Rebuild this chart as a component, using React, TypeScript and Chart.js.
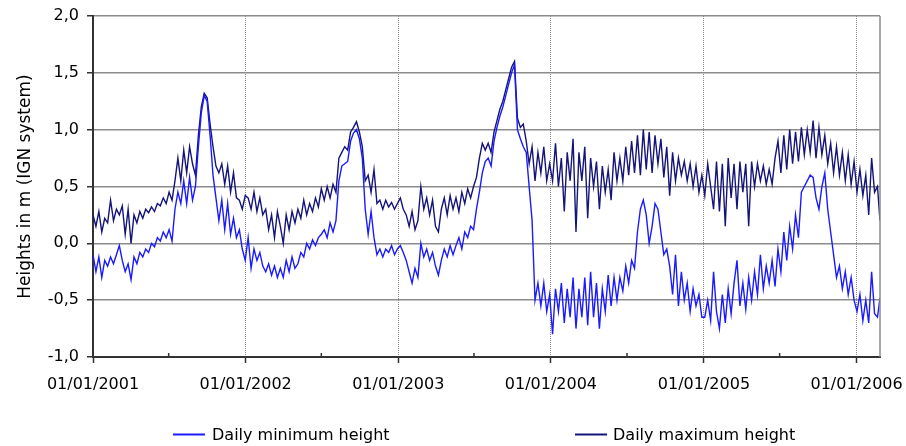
import { useEffect, useRef } from 'react';
import { Chart, registerables } from 'chart.js';

Chart.register(...registerables);

const seriesNames = ['Daily minimum height', 'Daily maximum height'];
const seriesColors = ['#1a1aff', '#14147a'];
const yTitle = 'Heights in m (IGN system)';
const xTickDays = [0, 365, 730, 1095, 1461, 1826];
const xTickLabels = ['01/01/2001', '01/01/2002', '01/01/2003', '01/01/2004', '01/01/2005', '01/01/2006'];
const xMinorTickDays = [181, 546, 911, 1277, 1642];
const yTickValues = [-1, -0.5, 0, 0.5, 1, 1.5, 2];
const sampleStepDays = 7;
const lastSampleDay = 1882;

const minHeights = [
  // 2001
  -0.10, -0.25, -0.12, -0.30, -0.15, -0.20, -0.12, -0.18, -0.10, -0.02,
  -0.15, -0.25, -0.18, -0.32, -0.12, -0.18, -0.08, -0.12, -0.05, -0.08,
  0.00, -0.03, 0.05, 0.02, 0.10, 0.05, 0.12, 0.02, 0.30, 0.45,
  0.35, 0.55, 0.35, 0.58, 0.38, 0.50, 0.85, 1.15, 1.30, 1.25,
  0.95, 0.60, 0.40, 0.20, 0.38, 0.12, 0.35, 0.08, 0.22, 0.05,
  0.12, -0.05, -0.15,
  // 2002
  0.05, -0.22, -0.05, -0.15, -0.08, -0.20, -0.25, -0.18, -0.28, -0.20,
  -0.30, -0.22, -0.30, -0.15, -0.25, -0.12, -0.22, -0.18, -0.08, -0.12,
  0.00, -0.05, 0.03, -0.02, 0.05, 0.08, 0.12, 0.05, 0.18, 0.10,
  0.20, 0.55, 0.68, 0.70, 0.72, 0.90, 0.97, 1.00, 0.92, 0.75,
  0.30, 0.08, 0.28, 0.05, -0.10, -0.05, -0.12, -0.05, -0.08, -0.02, -0.10, -0.05,
  // 2003
  -0.02, -0.08, -0.15, -0.25, -0.35, -0.22, -0.30, 0.00, -0.12, -0.05,
  -0.15, -0.08, -0.20, -0.28, -0.15, -0.05, -0.12, -0.02, -0.10, -0.02,
  0.05, -0.05, 0.10, 0.05, 0.15, 0.12, 0.30, 0.45, 0.62, 0.72,
  0.75, 0.68, 0.90, 1.02, 1.12, 1.20, 1.30, 1.40, 1.50, 1.57,
  1.00, 0.92, 0.85, 0.80, 0.50, 0.20, -0.50, -0.35, -0.55, -0.35, -0.60, -0.45,
  // 2004
  -0.80, -0.40, -0.60, -0.35, -0.70, -0.40, -0.65, -0.30, -0.75, -0.40,
  -0.65, -0.30, -0.72, -0.25, -0.65, -0.35, -0.75, -0.40, -0.60, -0.28,
  -0.55, -0.30, -0.50, -0.30, -0.42, -0.20, -0.35, -0.15, -0.22, 0.10,
  0.30, 0.38, 0.25, 0.00, 0.15, 0.35, 0.30, 0.10, -0.10, -0.05,
  -0.20, -0.45, -0.10, -0.55, -0.25, -0.50, -0.35, -0.60, -0.40, -0.55, -0.45, -0.65,
  // 2005 - 2006
  -0.65, -0.50, -0.68, -0.25, -0.60, -0.75, -0.45, -0.70, -0.40, -0.62,
  -0.35, -0.15, -0.55, -0.35, -0.58, -0.30, -0.50, -0.25, -0.45, -0.10,
  -0.40, -0.20, -0.35, -0.15, -0.38, -0.05, -0.25, 0.10, -0.15, 0.15,
  -0.05, 0.25, 0.05, 0.45, 0.50, 0.55, 0.60, 0.58, 0.40, 0.30,
  0.50, 0.62, 0.30, 0.10, -0.10, -0.30, -0.20, -0.40, -0.25, -0.45,
  -0.30, -0.50, -0.60, -0.45, -0.68, -0.50, -0.70, -0.25, -0.62, -0.65,
  -0.48,
];

const maxHeights = [
  // 2001
  0.25, 0.15, 0.28, 0.10, 0.22, 0.18, 0.38, 0.20, 0.30, 0.25,
  0.33, 0.08, 0.30, 0.00, 0.25, 0.18, 0.28, 0.22, 0.30, 0.27,
  0.32, 0.28, 0.35, 0.33, 0.40, 0.35, 0.45, 0.38, 0.55, 0.75,
  0.55, 0.82, 0.62, 0.85, 0.70, 0.60, 0.95, 1.20, 1.32, 1.28,
  1.05, 0.85, 0.68, 0.62, 0.70, 0.52, 0.68, 0.45, 0.62, 0.40,
  0.38, 0.30, 0.42,
  // 2002
  0.40, 0.30, 0.45, 0.28, 0.40, 0.25, 0.30, 0.12, 0.25, 0.05,
  0.28, 0.15, 0.00, 0.25, 0.12, 0.28, 0.18, 0.30, 0.22, 0.38,
  0.25, 0.35, 0.28, 0.40, 0.32, 0.48, 0.38, 0.50, 0.40, 0.52,
  0.45, 0.75, 0.80, 0.85, 0.82, 0.98, 1.02, 1.07, 0.98, 0.85,
  0.55, 0.60, 0.45, 0.65, 0.35, 0.38, 0.30, 0.38, 0.32, 0.36, 0.30, 0.35,
  // 2003
  0.40, 0.30, 0.25, 0.15, 0.28, 0.12, 0.20, 0.50, 0.30, 0.40,
  0.25, 0.38, 0.15, 0.10, 0.30, 0.40, 0.25, 0.42, 0.30, 0.40,
  0.28, 0.45, 0.35, 0.48, 0.40, 0.50, 0.58, 0.75, 0.88, 0.82,
  0.88, 0.80, 0.98, 1.08, 1.18, 1.25, 1.35, 1.45, 1.55, 1.60,
  1.10, 1.02, 1.05, 0.90, 0.70, 0.85, 0.55, 0.80, 0.62, 0.85, 0.55, 0.70,
  // 2004
  0.55, 0.88, 0.50, 0.75, 0.28, 0.80, 0.55, 0.92, 0.10, 0.80,
  0.55, 0.85, 0.22, 0.75, 0.50, 0.72, 0.30, 0.68, 0.45, 0.65,
  0.38, 0.80, 0.55, 0.75, 0.55, 0.85, 0.60, 0.90, 0.62, 0.95,
  0.60, 1.00, 0.65, 0.98, 0.62, 0.95, 0.70, 0.92, 0.58, 0.85,
  0.42, 0.80, 0.55, 0.75, 0.60, 0.72, 0.55, 0.70, 0.50, 0.68, 0.45, 0.60,
  // 2005 - 2006
  0.42, 0.70, 0.50, 0.30, 0.72, 0.28, 0.70, 0.15, 0.75, 0.40,
  0.70, 0.30, 0.72, 0.45, 0.70, 0.15, 0.72, 0.50, 0.70, 0.55,
  0.68, 0.52, 0.65, 0.52, 0.75, 0.90, 0.62, 0.95, 0.65, 1.00,
  0.70, 0.98, 0.72, 1.02, 0.78, 1.00, 0.80, 1.08, 0.75, 1.02,
  0.78, 0.95, 0.70, 0.88, 0.62, 0.85, 0.60, 0.80, 0.55, 0.78,
  0.52, 0.72, 0.45, 0.65, 0.42, 0.60, 0.25, 0.75, 0.45, 0.50,
  0.20,
];

const FONT = 'DejaVu Sans';

function sampleDay(i: number, n: number) {
  return i === n - 1 ? lastSampleDay : i * sampleStepDays;
}

function toPoints(values: number[]) {
  return values.map((v, i) => ({ x: sampleDay(i, values.length), y: v }));
}

const extrasPlugin = {
  id: 'extras',
  afterDraw(chart: any) {
    const { ctx, chartArea: a, scales } = chart;
    ctx.save();
    // right border of plot area
    ctx.strokeStyle = '#8c8c8c';
    ctx.lineWidth = 1.5;
    ctx.beginPath();
    ctx.moveTo(a.right, a.top);
    ctx.lineTo(a.right, a.bottom);
    ctx.stroke();
    // minor ticks (inside)
    ctx.strokeStyle = '#333';
    ctx.lineWidth = 1.5;
    ctx.beginPath();
    xMinorTickDays.forEach((d) => {
      const x = scales.x.getPixelForValue(d);
      ctx.moveTo(x, a.bottom - 4);
      ctx.lineTo(x, a.bottom);
    });
    ctx.stroke();
    // legend
    const items = [
      { x0: 173, x1: 205, tx: 212 },
      { x0: 575, x1: 607, tx: 613 },
    ];
    ctx.font = `16px "${FONT}"`;
    ctx.textBaseline = 'alphabetic';
    ctx.textAlign = 'left';
    items.forEach((it, i) => {
      ctx.strokeStyle = seriesColors[i];
      ctx.lineWidth = 2;
      ctx.beginPath();
      ctx.moveTo(it.x0, 434.5);
      ctx.lineTo(it.x1, 434.5);
      ctx.stroke();
      ctx.fillStyle = '#000';
      ctx.fillText(seriesNames[i], it.tx, 440);
    });
    ctx.restore();
  },
};

export default function App() {
  const ref = useRef<HTMLCanvasElement | null>(null);
  useEffect(() => {
    if (!ref.current) return;
    const chart = new Chart(ref.current, {
      type: 'line',
      data: {
        datasets: [
          {
            label: seriesNames[0],
            data: toPoints(minHeights),
            borderColor: seriesColors[0],
            backgroundColor: seriesColors[0],
            borderWidth: 1.4,
            pointRadius: 0,
            tension: 0,
          },
          {
            label: seriesNames[1],
            data: toPoints(maxHeights),
            borderColor: seriesColors[1],
            backgroundColor: seriesColors[1],
            borderWidth: 1.4,
            pointRadius: 0,
            tension: 0,
          },
        ],
      },
      options: {
        animation: false,
        responsive: false,
        maintainAspectRatio: false,
        layout: { padding: { left: 0, right: 26, top: 16, bottom: 0 } },
        plugins: { legend: { display: false }, tooltip: { enabled: false } },
        scales: {
          x: {
            type: 'linear',
            min: 0,
            max: lastSampleDay,
            afterBuildTicks: (s: any) => {
              s.ticks = xTickDays.map((v) => ({ value: v }));
            },
            afterFit: (s: any) => {
              s.height = 89;
              s.paddingLeft = 0;
              s.paddingRight = 0;
            },
            ticks: {
              callback: (v: any) => {
                const idx = xTickDays.indexOf(Number(v));
                return idx >= 0 ? xTickLabels[idx] : '';
              },
              font: { family: FONT, size: 16 },
              color: '#000',
              padding: 12,
              maxRotation: 0,
              autoSkip: false,
            },
            grid: { color: '#8a8a8a', lineWidth: 1, tickLength: 6, tickColor: '#333', tickWidth: 1.5 },
            border: { display: true, color: '#333', width: 2, dash: [1, 1] },
          },
          y: {
            min: -1,
            max: 2,
            afterBuildTicks: (s: any) => {
              s.ticks = yTickValues.map((v) => ({ value: v }));
            },
            afterFit: (s: any) => {
              s.width = 93;
              s.paddingTop = 0;
              s.paddingBottom = 0;
            },
            ticks: {
              callback: (v: any) => Number(v).toFixed(1).replace('.', ','),
              font: { family: FONT, size: 16 },
              color: '#000',
              padding: 8,
            },
            grid: { color: '#8c8c8c', lineWidth: 1.5, tickLength: 6, tickColor: '#333', tickWidth: 1.5 },
            border: { display: true, color: '#333', width: 2 },
            title: {
              display: true,
              text: yTitle,
              font: { family: FONT, size: 17 },
              color: '#000',
              padding: { top: 15, bottom: 0 },
            },
          },
        },
      },
      plugins: [extrasPlugin],
    } as any);
    return () => chart.destroy();
  }, []);
  return (
    <div style={{ position: 'absolute', left: 0, top: 0, width: 906, height: 446, background: '#fff' }}>
      <canvas ref={ref} width={906} height={446} style={{ display: 'block', width: 906, height: 446 }} />
    </div>
  );
}
